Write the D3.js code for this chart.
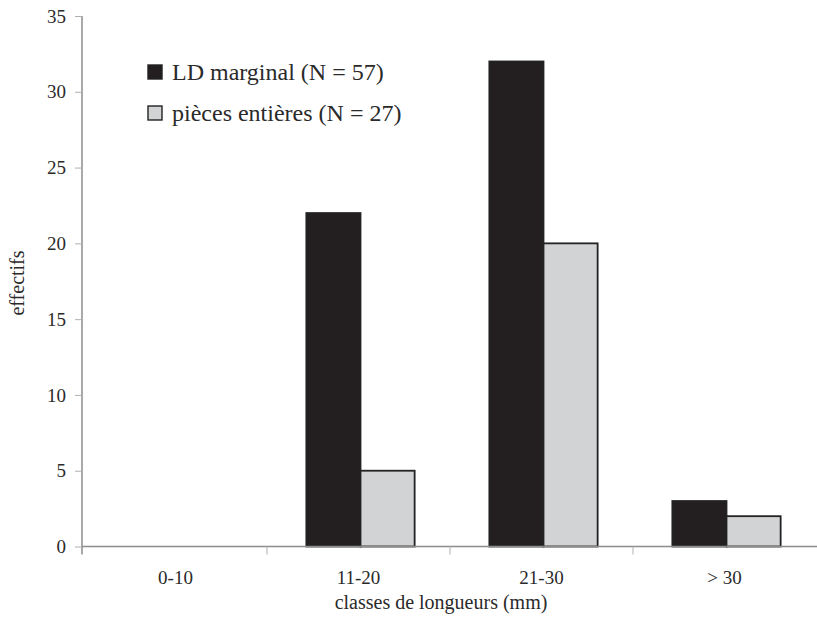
<!DOCTYPE html>
<html>
<head>
<meta charset="utf-8">
<script src="https://cdn.jsdelivr.net/npm/d3@7"></script>
<style>
  body { margin: 0; background: #fff; }
</style>
</head>
<body>
<svg id="chart" width="817" height="621"></svg>
<script>
// data
const categories = ["0-10", "11-20", "21-30", "> 30"];
const seriesNames = ["LD marginal (N = 57)", "pièces entières (N = 27)"];
const ldMarginal = [0, 22, 32, 3];
const piecesEntieres = [0, 5, 20, 2];
const yTicks = [0, 5, 10, 15, 20, 25, 30, 35];
const fills = ["#231f20", "#d1d3d4"];

const serif = "'Liberation Serif', 'Times New Roman', serif";
const svg = d3.select("#chart");
const plotLeft = 82, plotBottom = 546.5, plotTop = 16;

const x0 = d3.scaleBand().domain(categories).range([84, 816]).padding(0);
const x1 = d3.scaleBand().domain([0, 1]).range([0, x0.bandwidth()]).paddingOuter(0.69);
const y = d3.scaleLinear().domain([0, 35]).range([plotBottom, plotTop]);

// bars
const rows = categories.map((c, i) => ({ cat: c, vals: [ldMarginal[i], piecesEntieres[i]] }));
const groups = svg.append("g").selectAll("g")
  .data(rows).enter().append("g")
  .attr("transform", d => `translate(${x0(d.cat) + 2},0)`);

groups.selectAll("rect")
  .data(d => d.vals.map((v, k) => ({ v, k })).filter(d => d.v > 0))
  .enter().append("rect")
  .attr("x", d => x1(d.k))
  .attr("y", d => y(d.v))
  .attr("width", x1.bandwidth())
  .attr("height", d => plotBottom - y(d.v))
  .attr("fill", d => fills[d.k])
  .attr("stroke", "#222")
  .attr("stroke-width", 1.8);

// y axis
const yAxis = svg.append("g")
  .attr("transform", `translate(${plotLeft},0)`)
  .call(d3.axisLeft(y).tickValues(yTicks).tickSize(7).tickPadding(9).tickSizeOuter(0));
yAxis.select(".domain").attr("stroke", "#8c8c8c").attr("stroke-width", 1.5)
  .attr("d", `M0,${plotTop}V${plotBottom + 8}`);
yAxis.selectAll(".tick line").attr("stroke", "#b0b0b0");
yAxis.selectAll(".tick text").style("font-family", serif).style("font-size", "19px").attr("fill", "#2a2a2a");

// x axis
const xAxis = svg.append("g")
  .attr("transform", `translate(0,${plotBottom})`)
  .call(d3.axisBottom(x0).tickSize(0).tickPadding(24).tickSizeOuter(0));
xAxis.select(".domain").attr("stroke", "#8c8c8c").attr("stroke-width", 1.5)
  .attr("d", `M${plotLeft},0H817`);
xAxis.selectAll(".tick text").style("font-family", serif).style("font-size", "19px").attr("fill", "#2a2a2a");
xAxis.selectAll(".bound")
  .data(categories.slice(1))
  .enter().append("line")
  .attr("class", "bound")
  .attr("x1", d => x0(d)).attr("x2", d => x0(d))
  .attr("y1", 0).attr("y2", 8)
  .attr("stroke", "#b0b0b0");

// axis titles
svg.append("text")
  .attr("x", 441).attr("y", 609)
  .attr("text-anchor", "middle")
  .style("font-family", serif).style("font-size", "20px")
  .attr("fill", "#2a2a2a")
  .text("classes de longueurs (mm)");

svg.append("text")
  .attr("transform", "translate(24,283) rotate(-90)")
  .attr("text-anchor", "middle")
  .style("font-family", serif).style("font-size", "20px")
  .attr("fill", "#2a2a2a")
  .text("effectifs");

// legend
const legend = svg.append("g").attr("transform", "translate(148,65)");
const items = legend.selectAll("g").data(seriesNames).enter().append("g")
  .attr("transform", (d, i) => `translate(0,${i * 41})`);
items.append("rect")
  .attr("width", 14).attr("height", 14)
  .attr("fill", (d, i) => fills[i])
  .attr("stroke", "#222").attr("stroke-width", 1.4);
items.append("text")
  .attr("x", 24).attr("y", 15)
  .style("font-family", serif).style("font-size", "24px")
  .attr("fill", "#2a2a2a")
  .text(d => d);
</script>
</body>
</html>
